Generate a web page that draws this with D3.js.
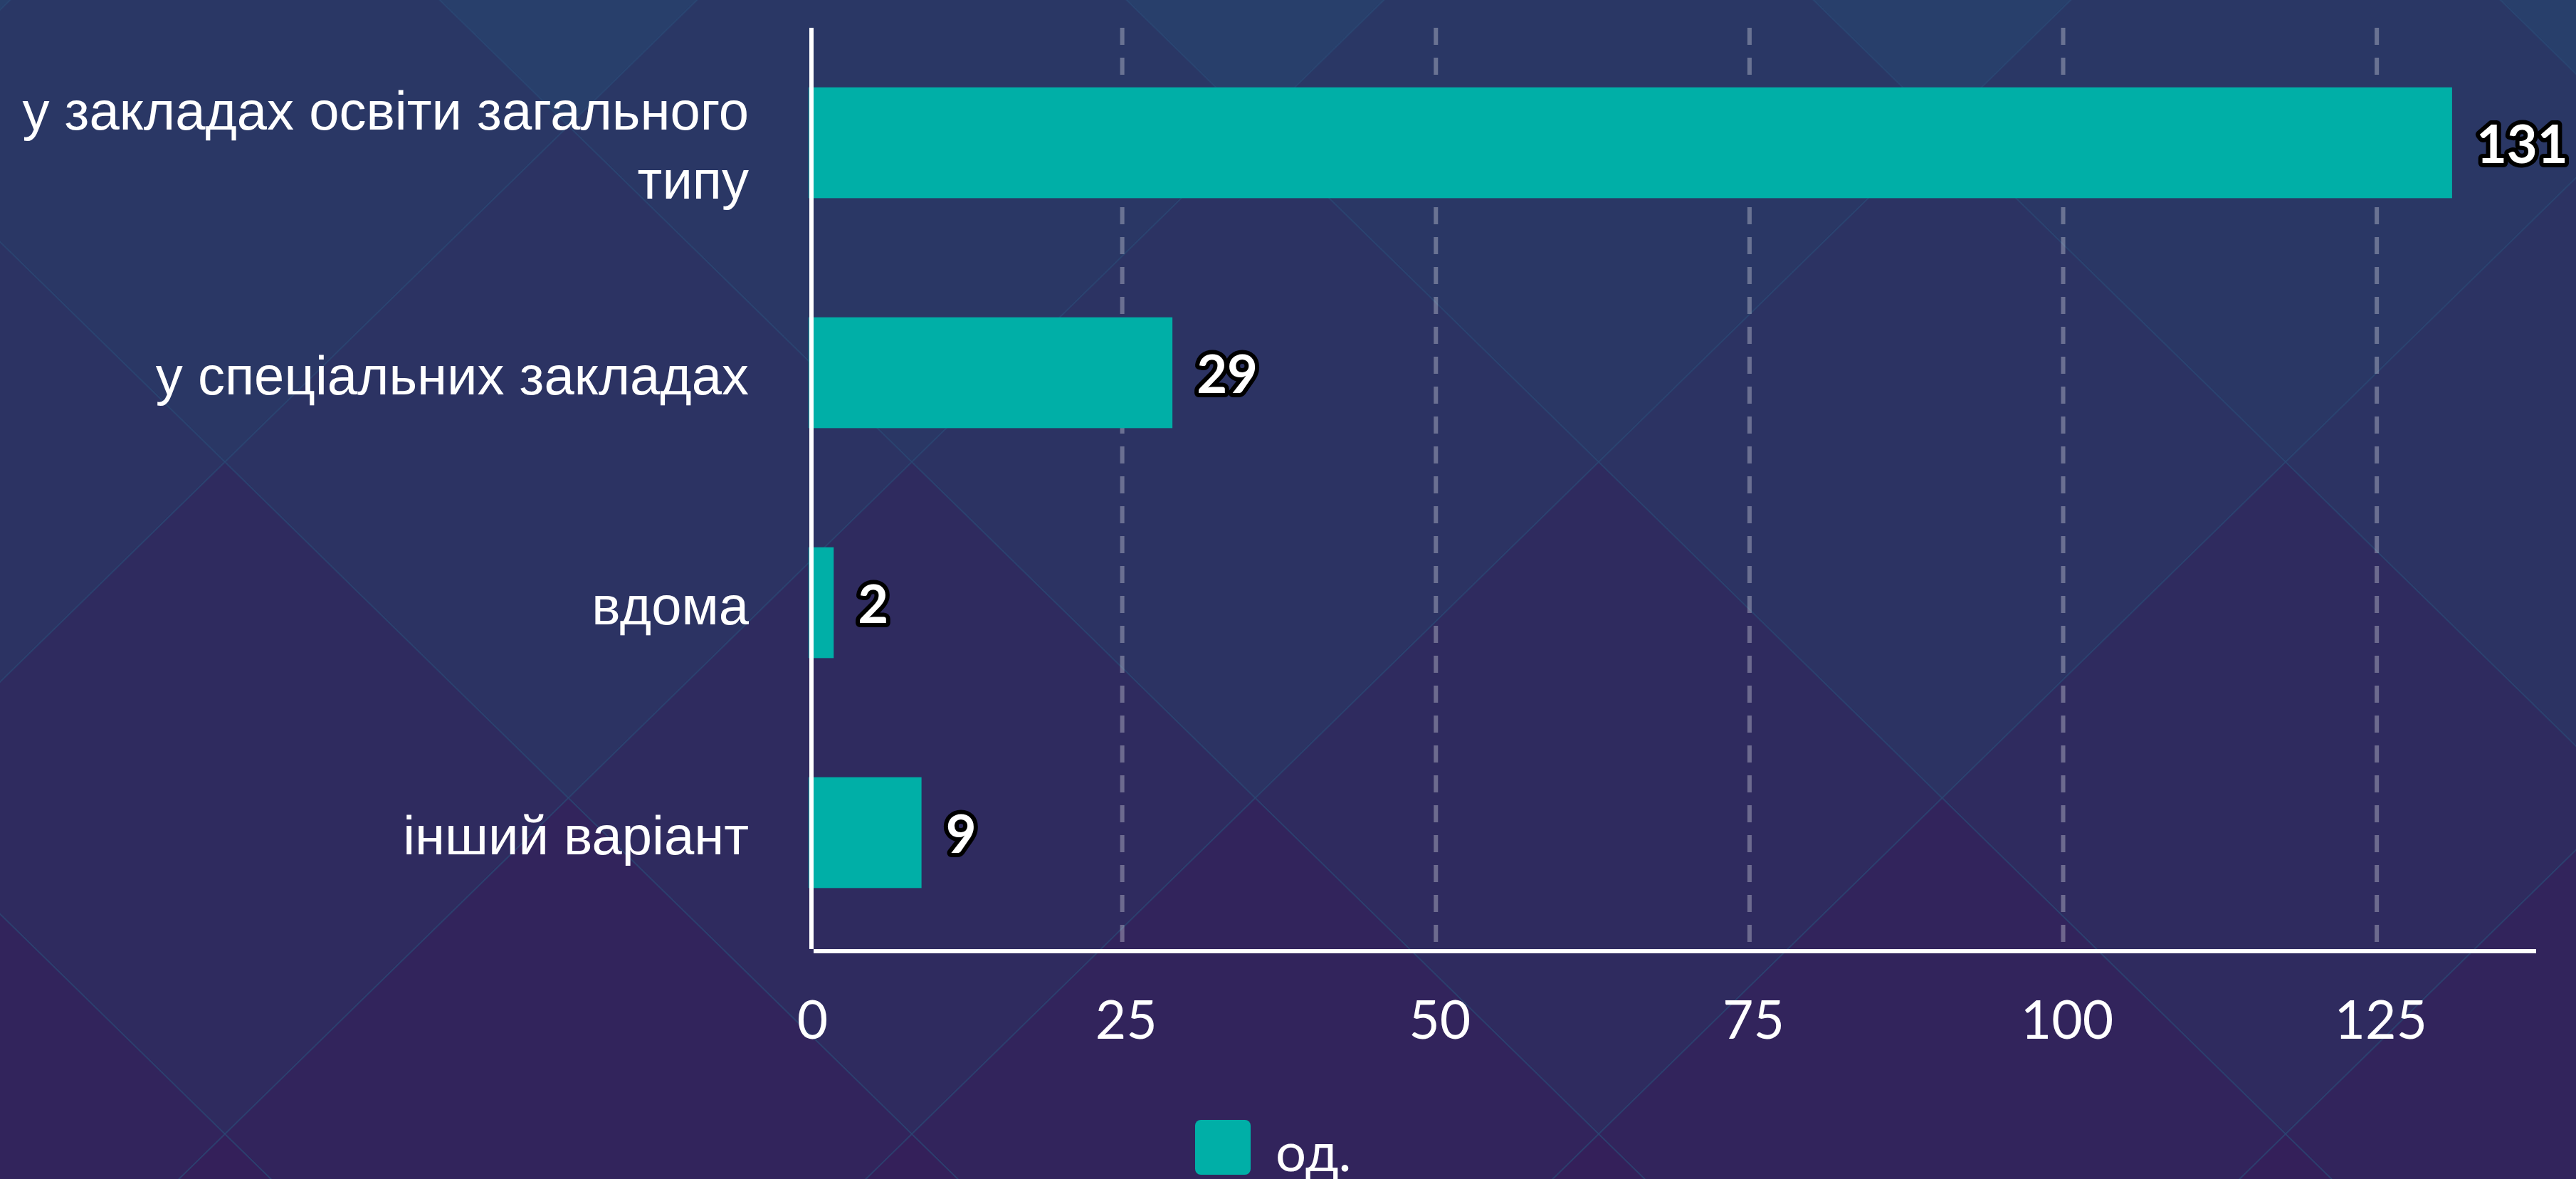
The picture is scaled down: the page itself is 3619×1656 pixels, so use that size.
<!DOCTYPE html>
<html>
<head>
<meta charset="utf-8">
<script src="https://cdn.jsdelivr.net/npm/d3@7/dist/d3.min.js"></script>
<style>
  html, body { margin: 0; padding: 0; background: #2d2f60; }
  svg { display: block; }
</style>
</head>
<body>
<svg id="chart" width="3619" height="1656"></svg>
<script>
// ---------------- DATA ----------------
const categories = [
  "у закладах освіти загального типу",
  "у спеціальних закладах",
  "вдома",
  "інший варіант"
];
const values = [131, 29, 2, 9];
const tickValues = [0, 25, 50, 75, 100, 125];
const seriesName = "од.";
const xDomainMax = 137.7;

// ---------------- LAYOUT ----------------
const W = 3619, H = 1656;
const plot = { left: 1136, axisX: 1140, right: 3563, top: 39, bottom: 1331, axisY: 1336 };
const barColor = "#00afa7";

const svg = d3.select("#chart");

// ---------------- BACKGROUND (decorative diamond lattice) ----------------
const bg = svg.append("g");
bg.append("rect").attr("width", W).attr("height", H).attr("fill", "#2d2f60");
const hx = 482.5, hy = 472, ox = 316, oy = 649;
const rowColors = {
  "-2": "#283f6b", "-1": "#2a3765", "0": "#2c3363",
  "1": "#2f2b5f", "2": "#32245c", "3": "#34205a"
};
const cells = [];
for (let j = -2; j <= 3; j++) {
  for (let i = -2; i <= 9; i++) {
    if (Math.abs((i + j) % 2) === 1) cells.push({ i, j, cx: ox + hx * i, cy: oy + hy * j });
  }
}
bg.selectAll("path.cell").data(cells).join("path")
  .attr("class", "cell")
  .attr("d", d => `M${d.cx},${d.cy - hy}L${d.cx + hx},${d.cy}L${d.cx},${d.cy + hy}L${d.cx - hx},${d.cy}Z`)
  .attr("fill", d => rowColors[String(d.j)])
  .attr("stroke", "rgba(44,74,118,0.55)")
  .attr("stroke-width", 2);

// ---------------- SCALES ----------------
const x = d3.scaleLinear().domain([0, xDomainMax]).range([plot.left, plot.right]);
const y = d3.scaleBand().domain(categories).range([plot.top, plot.bottom])
  .paddingInner(0.518).paddingOuter(0.259);

// ---------------- GRID ----------------
svg.append("g").selectAll("line").data(tickValues.filter(t => t > 0)).join("line")
  .attr("x1", d => x(d)).attr("x2", d => x(d))
  .attr("y1", plot.top).attr("y2", plot.bottom)
  .attr("stroke", "rgba(255,255,255,0.3)")
  .attr("stroke-width", 6)
  .attr("stroke-dasharray", "24 18");

// ---------------- BARS ----------------
const rows = categories.map((c, k) => ({ cat: c, val: values[k] }));
svg.append("g").selectAll("rect").data(rows).join("rect")
  .attr("x", x(0))
  .attr("y", d => y(d.cat))
  .attr("width", d => x(d.val) - x(0))
  .attr("height", y.bandwidth())
  .attr("fill", barColor);

// ---------------- AXES ----------------
svg.append("line")
  .attr("x1", plot.axisX).attr("x2", plot.axisX)
  .attr("y1", plot.top).attr("y2", plot.axisY - 3)
  .attr("stroke", "#ffffff").attr("stroke-width", 6);
svg.append("line")
  .attr("x1", plot.axisX + 3).attr("x2", plot.right)
  .attr("y1", plot.axisY).attr("y2", plot.axisY)
  .attr("stroke", "#ffffff").attr("stroke-width", 6);

const xAxis = d3.axisBottom(x).tickValues(tickValues).tickSize(0).tickFormat(d3.format("d"));
const gx = svg.append("g").attr("transform", `translate(0,${plot.axisY})`).call(xAxis);
gx.select(".domain").remove();
gx.selectAll("text")
  .attr("y", 123).attr("dy", null).attr("x", 5)
  .attr("fill", "#ffffff")
  .style("font-family", "Lato, 'Noto Sans', sans-serif")
  .style("font-size", "75px");

// ---------------- CATEGORY LABELS ----------------
const labelFont = "76px 'Liberation Sans', Arial, sans-serif";
const ctx = document.createElement("canvas").getContext("2d");
ctx.font = labelFont;
function wrap(text, maxW) {
  const words = text.split(" ");
  const lines = [];
  let cur = "";
  words.forEach(w => {
    const test = cur ? cur + " " + w : w;
    if (ctx.measureText(test).width > maxW && cur) { lines.push(cur); cur = w; }
    else cur = test;
  });
  if (cur) lines.push(cur);
  return lines;
}
const lineH = 97;
const labels = svg.append("g").selectAll("text").data(rows).join("text")
  .attr("text-anchor", "end")
  .attr("fill", "#ffffff")
  .style("font", labelFont);
labels.each(function (d) {
  const lines = wrap(d.cat, 1040);
  const cy = y(d.cat) + y.bandwidth() / 2;
  const first = cy + 30 - (lines.length - 1) * lineH / 2;
  d3.select(this).selectAll("tspan").data(lines).join("tspan")
    .attr("x", 1052)
    .attr("y", (l, k) => first + k * lineH)
    .text(l => l);
});

// ---------------- VALUE LABELS ----------------
svg.append("g").selectAll("text").data(rows).join("text")
  .attr("x", d => x(d.val) + 34)
  .attr("y", d => y(d.cat) + y.bandwidth() / 2 + 28)
  .attr("fill", "#ffffff")
  .attr("stroke", "#000000")
  .attr("stroke-width", 12)
  .attr("stroke-linejoin", "round")
  .attr("paint-order", "stroke")
  .style("font-family", "Lato, 'Noto Sans', sans-serif")
  .style("font-weight", "700")
  .style("font-size", "74px")
  .text(d => d.val);

// ---------------- LEGEND ----------------
const lg = svg.append("g");
lg.append("rect")
  .attr("x", 1679).attr("y", 1573).attr("width", 78).attr("height", 77)
  .attr("rx", 8).attr("fill", barColor);
lg.append("text")
  .attr("x", 1792).attr("y", 1645)
  .attr("fill", "#ffffff")
  .style("font-family", "Lato, 'Noto Sans', sans-serif")
  .style("font-size", "76px")
  .text(seriesName);
</script>
</body>
</html>
